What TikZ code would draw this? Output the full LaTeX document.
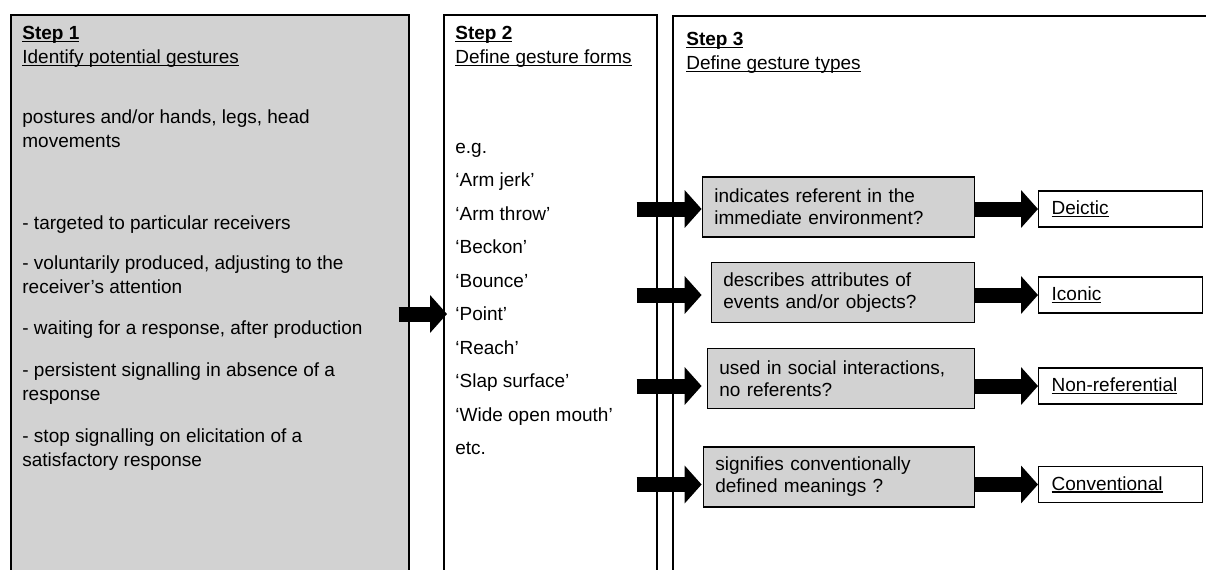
\documentclass[tikz,border=0pt]{standalone}
\usepackage{fontspec}
\setmainfont{Liberation Sans}
\usetikzlibrary{arrows.meta,positioning}

\definecolor{boxgray}{RGB}{210,210,210}
\newsavebox\ulsave
\newcommand\undl[1]{\sbox\ulsave{#1}\rlap{\rule[-1.3pt]{\wd\ulsave}{0.6pt}}\usebox\ulsave}

\begin{document}
\begin{tikzpicture}[
  x=0.5pt, y=-0.5pt,
  every node/.style={font=\fontsize{9.5}{12}\selectfont},
  stepbox/.style={draw, line width=0.8pt, anchor=north west, inner sep=0pt},
  steptext/.style={anchor=north west, align=left, inner sep=0pt},
  qbox/.style={draw, line width=0.7pt, fill=boxgray, minimum height=30pt, inner xsep=6pt,
    align=left, font=\fontsize{9.5}{11}\selectfont},
  typebox/.style={draw, line width=0.7pt, minimum height=18pt, text width=69pt,
    inner xsep=6.5pt, align=left},
  fatarrow/.style={line width=7.5pt, -{Triangle[length=8.5pt, width=18.5pt]}}
  ]
\path[use as bounding box, clip] (0,0) rectangle (1206,569);

% the three steps
\node[stepbox, fill=boxgray, minimum width=199pt, minimum height=293pt] (s1) at (10,14) {};
\node[stepbox, minimum width=106.5pt, minimum height=293pt] (s2) at (443,14) {};
\node[stepbox, minimum width=274pt, minimum height=293pt] (s3) at (672,15) {};

\node[steptext] (s1txt) at ([xshift=6pt,yshift=-4.1pt]s1.north west) {%
  \strut\textbf{\undl{Step 1}}\\
  \undl{Identify potential gestures}\\[18pt]
  postures and/or hands, legs, head\\
  movements\\[29pt]
  - targeted to particular receivers\\[8pt]
  - voluntarily produced, adjusting to the\\
  receiver’s attention\\[8.5pt]
  - waiting for a response, after production\\[9pt]
  - persistent signalling in absence of a\\
  response\\[9pt]
  - stop signalling on elicitation of a\\
  satisfactory response};

\node[steptext] (s2txt) at ([xshift=6pt,yshift=-4.1pt]s2.north west) {%
  \strut\textbf{\undl{Step 2}}\\
  \undl{Define gesture forms}\\[33pt]
  e.g.\\[4.75pt]
  ‘Arm jerk’\\[4.75pt]
  ‘Arm throw’\\[4.75pt]
  ‘Beckon’\\[4.75pt]
  ‘Bounce’\\[4.75pt]
  ‘Point’\\[4.75pt]
  ‘Reach’\\[4.75pt]
  ‘Slap surface’\\[4.75pt]
  ‘Wide open mouth’\\[4.75pt]
  etc.};

\node[steptext] (s3txt) at ([xshift=7pt,yshift=-6.6pt]s3.north west) {%
  \strut\textbf{\undl{Step 3}}\\
  \undl{Define gesture types}};

% questions
\node[qbox, text width=124pt, anchor=east] (q1) at (975,207) {indicates referent in the\\immediate environment?};
\node[qbox, text width=119.5pt, anchor=east] (q2) at (975,292.5) {describes attributes of\\events and/or objects?};
\node[qbox, text width=121.5pt, anchor=east] (q3) at (975,378.5) {used in social interactions,\\no referents?};
\node[qbox, text width=123.5pt, anchor=east] (q4) at (975,477) {signifies conventionally\\defined meanings ?};

% gesture types
\node[typebox, anchor=west] (t1) at (1038,209) {\undl{Deictic}};
\node[typebox, anchor=west] (t2) at (1038,295) {\undl{Iconic}};
\node[typebox, anchor=west] (t3) at (1038,386) {\undl{Non-referential}};
\node[typebox, anchor=west] (t4) at (1038,484.5) {\undl{Conventional}};

% arrows
\coordinate (pointrow) at (447,314);
\coordinate (s1r) at ([xshift=-5.5pt]s1.east);
\coordinate (s2r) at ([xshift=-10.5pt]s2.east);
\draw[fatarrow] (s1r |- pointrow) -- (pointrow);

\draw[fatarrow] (s2r |- t1) -- (q1.west |- t1);
\draw[fatarrow] (s2r |- t2) -- (q1.west |- t2);
\draw[fatarrow] (s2r |- t3) -- (q1.west |- t3);
\draw[fatarrow] (s2r |- t4) -- (q1.west |- t4);

\draw[fatarrow] (q1.east |- t1) -- (t1.west);
\draw[fatarrow] (q2.east |- t2) -- (t2.west);
\draw[fatarrow] (q3.east |- t3) -- (t3.west);
\draw[fatarrow] (q4.east |- t4) -- (t4.west);
\end{tikzpicture}
\end{document}
